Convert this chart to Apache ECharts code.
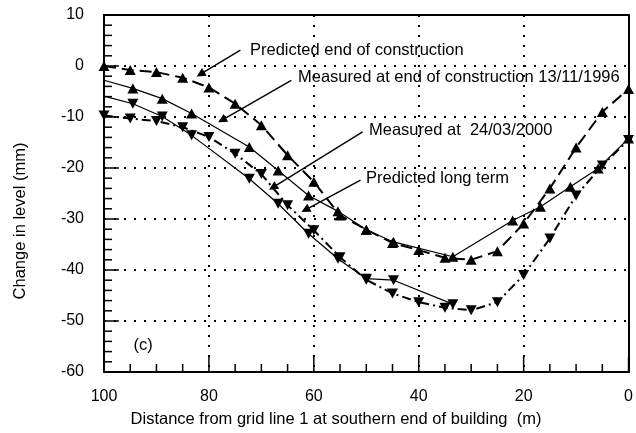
<!DOCTYPE html>
<html>
<head>
<meta charset="utf-8">
<title>Change in level along building</title>
<script src="https://cdn.jsdelivr.net/npm/echarts@6/dist/echarts.min.js"></script>
<style>
  html, body { margin: 0; padding: 0; background: #fff; }
  #chart { width: 636px; height: 433px; }
</style>
</head>
<body>
<div id="chart"></div>
<script>
// Predicted profiles, computed every 5 m
const predictedDist = [100, 95, 90, 85, 80, 75, 70, 65, 60, 55, 50, 45, 40, 35, 30, 25, 20, 15, 10, 5, 0];
const predictedEndOfConstruction = [0, -0.8, -1.2, -2.3, -4.2, -7.4, -11.6, -17.5, -22.7, -29.3, -32.1, -34.7, -36.1, -37.6, -38.0, -36.3, -30.9, -24.0, -16.0, -9.0, -4.5];
const predictedLongTerm = [-9.7, -10.3, -10.8, -12.0, -13.9, -17.2, -21.2, -27.3, -32.2, -37.5, -41.9, -44.6, -46.3, -47.4, -47.9, -46.3, -41.0, -33.8, -25.4, -19.5, -14.5];

// Survey readings (first entry is the line's start at the building end, no marker)
const measured1996Dist = [100, 94.5, 88.9, 83.3, 72.3, 66.8, 61.0, 55.4, 50.0, 44.8, 33.5, 22.1, 16.8, 11.1, 5.8, 0];
const measured1996 = [-2.8, -4.4, -6.4, -9.3, -15.9, -20.5, -25.4, -28.5, -32.1, -34.5, -37.4, -30.3, -27.6, -23.7, -20.1, -14.2];
const measured2000Dist = [100, 94.5, 88.9, 83.3, 72.3, 66.8, 61.0, 55.4, 50.0, 44.8, 33.5];
const measured2000 = [-5.9, -7.4, -9.9, -13.6, -22.1, -27.0, -32.9, -37.8, -41.7, -42.0, -46.7];

const xTicks = { min: 0, max: 100, interval: 20 };
const yTicks = { min: -60, max: 10, interval: 10 };

// Tick positions: x every 5 m (major every 20), y every 2 mm (major every 10)
const xTickValues = [0, 5, 10, 15, 20, 25, 30, 35, 40, 45, 50, 55, 60, 65, 70, 75, 80, 85, 90, 95, 100];
const yTickValues = [-60, -58, -56, -54, -52, -50, -48, -46, -44, -42, -40, -38, -36, -34, -32, -30, -28, -26, -24, -22, -20,
                     -18, -16, -14, -12, -10, -8, -6, -4, -2, 0, 2, 4, 6, 8, 10];

// Annotation arrows: [text anchor end, arrow tip] in data units
const arrows = [
  [[74.0, 3.1], [81.6, -1.6]],
  [[64.3, -2.8], [77.5, -10.6]],
  [[50.7, -12.9], [67.8, -23.8]],
  [[51.1, -22.4], [61.6, -28.2]]
];

const FAMILY = '"Liberation Sans", Arial, sans-serif';
const FONT = '16.5px ' + FAMILY;
const UP = 'triangle';
const DOWN = 'path://M0,0 L10,0 L5,9 Z';
const MAJOR_LEN = 15;
const MINOR_LEN = 8;

function pairs(xs, ys, firstBare) {
  return xs.map((x, i) => {
    if (firstBare && i === 0) return { value: [x, ys[i]], symbol: 'none' };
    return [x, ys[i]];
  });
}

// Main axes: axis line, dotted grid lines, labels
function mainAxis(extra, labelMargin) {
  return Object.assign({
    type: 'value',
    axisLine: { show: true, onZero: false, lineStyle: { color: '#000', width: 2 } },
    axisTick: { show: false },
    minorTick: { show: false },
    splitLine: { show: true, lineStyle: { color: '#000', width: 2, type: [2, 8] } },
    axisLabel: { color: '#000', fontSize: 16, fontFamily: FAMILY, margin: labelMargin }
  }, extra);
}

// Opposite axes only close the frame
function frameAxis(extra) {
  return Object.assign({
    type: 'value',
    axisLine: { show: true, onZero: false, lineStyle: { color: '#000', width: 2 } },
    axisTick: { show: false },
    axisLabel: { show: false },
    splitLine: { show: false }
  }, extra);
}

// Inside tick marks, placed through the axis scales
function tickSeries(values, isX) {
  return {
    type: 'custom',
    coordinateSystem: 'cartesian2d',
    xAxisIndex: 0, yAxisIndex: 0,
    silent: true,
    clip: false,
    z: 4,
    data: values.map(v => isX ? [v, yTicks.min] : [xTicks.max, v]),
    renderItem: function (params, api) {
      const vx = api.value(0), vy = api.value(1);
      const p = api.coord([vx, vy]);
      const major = isX ? (vx % xTicks.interval === 0) : (vy % yTicks.interval === 0);
      const len = major ? MAJOR_LEN : MINOR_LEN;
      const shape = isX
        ? { x1: p[0], y1: p[1], x2: p[0], y2: p[1] - len }
        : { x1: p[0], y1: p[1], x2: p[0] + len, y2: p[1] };
      return { type: 'line', shape: shape, style: { stroke: '#000', lineWidth: 1.5 } };
    }
  };
}

const chart = echarts.init(document.getElementById('chart'));

chart.setOption({
  animation: false,
  backgroundColor: '#fff',
  grid: { left: 104, right: 2, top: 15, bottom: 61 },
  xAxis: [
    mainAxis({ min: xTicks.min, max: xTicks.max, interval: xTicks.interval, inverse: true, position: 'bottom' }, 17),
    frameAxis({ min: xTicks.min, max: xTicks.max, interval: xTicks.interval, inverse: true, position: 'top' })
  ],
  yAxis: [
    mainAxis({ min: yTicks.min, max: yTicks.max, interval: yTicks.interval, position: 'left' }, 20),
    frameAxis({ min: yTicks.min, max: yTicks.max, interval: yTicks.interval, position: 'right' })
  ],
  series: [
    {
      name: 'Predicted end of construction',
      type: 'line',
      xAxisIndex: 0, yAxisIndex: 0,
      data: pairs(predictedDist, predictedEndOfConstruction, false),
      symbol: UP, symbolSize: [11, 10],
      itemStyle: { color: '#000' },
      lineStyle: { color: '#000', width: 2, type: [12, 6] },
      z: 3,
      markLine: {
        silent: true,
        symbol: ['none', 'triangle'],
        symbolSize: 9,
        lineStyle: { color: '#000', width: 1.4, type: 'solid' },
        label: { show: false },
        data: arrows.map(a => [{ coord: a[0] }, { coord: a[1] }])
      }
    },
    {
      name: 'Measured at end of construction 13/11/1996',
      type: 'line',
      xAxisIndex: 0, yAxisIndex: 0,
      data: pairs(measured1996Dist, measured1996, true),
      symbol: UP, symbolSize: [11, 10],
      itemStyle: { color: '#000' },
      lineStyle: { color: '#000', width: 1.2 },
      z: 3
    },
    {
      name: 'Measured at 24/03/2000',
      type: 'line',
      xAxisIndex: 0, yAxisIndex: 0,
      data: pairs(measured2000Dist, measured2000, true),
      symbol: DOWN, symbolSize: [11, 10],
      itemStyle: { color: '#000' },
      lineStyle: { color: '#000', width: 1.2 },
      z: 3
    },
    {
      name: 'Predicted long term',
      type: 'line',
      xAxisIndex: 0, yAxisIndex: 0,
      data: pairs(predictedDist, predictedLongTerm, false),
      symbol: DOWN, symbolSize: [11, 10],
      itemStyle: { color: '#000' },
      lineStyle: { color: '#000', width: 2, type: [9, 4, 2, 4] },
      z: 3
    },
    tickSeries(xTickValues, true),
    tickSeries(yTickValues, false)
  ],
  graphic: [
    { type: 'text', x: 250, y: 50, style: { text: 'Predicted end of construction', font: FONT, fill: '#000', textAlign: 'left', textVerticalAlign: 'middle' } },
    { type: 'text', x: 298, y: 77, style: { text: 'Measured at end of construction 13/11/1996', font: FONT, fill: '#000', textAlign: 'left', textVerticalAlign: 'middle' } },
    { type: 'text', x: 369, y: 130, style: { text: 'Measured at  24/03/2000', font: FONT, fill: '#000', textAlign: 'left', textVerticalAlign: 'middle' } },
    { type: 'text', x: 366, y: 178, style: { text: 'Predicted long term', font: FONT, fill: '#000', textAlign: 'left', textVerticalAlign: 'middle' } },
    { type: 'text', x: 143, y: 345, style: { text: '(c)', font: FONT, fill: '#000', textAlign: 'center', textVerticalAlign: 'middle' } },
    { type: 'text', x: 336, y: 419, style: { text: 'Distance from grid line 1 at southern end of building  (m)', font: FONT, fill: '#000', textAlign: 'center', textVerticalAlign: 'middle' } },
    { type: 'text', x: 20, y: 221, rotation: Math.PI / 2, style: { text: 'Change in level (mm)', font: FONT, fill: '#000', textAlign: 'center', textVerticalAlign: 'middle' } }
  ]
});
</script>
</body>
</html>
